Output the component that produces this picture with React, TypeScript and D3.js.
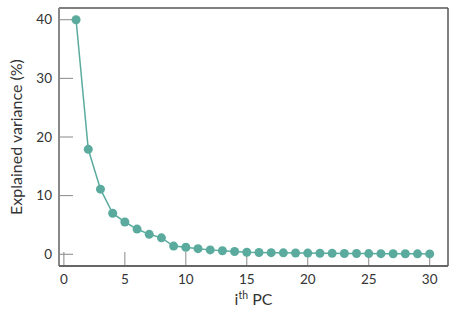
import React from "react";
import * as d3 from "d3";

const pcs = d3.range(1, 31);
const variance = [40, 17.9, 11.1, 7.0, 5.5, 4.3, 3.4, 2.8, 1.4, 1.2, 0.96, 0.75, 0.6, 0.48, 0.35, 0.3, 0.27, 0.24, 0.22, 0.2, 0.18, 0.16, 0.14, 0.13, 0.12, 0.1, 0.09, 0.08, 0.07, 0.06];
const xTicks = [0, 5, 10, 15, 20, 25, 30];
const yTicks = [0, 10, 20, 30, 40];

const W = 457, H = 322;
const L = 59, R = 448, T = 8, B = 266;
const color = "#5aab9e";
const font = "Lato, 'Open Sans', sans-serif";

export default function App() {
  const x = d3.scaleLinear().domain([-0.4, 31.5]).range([L, R]);
  const y = d3.scaleLinear().domain([-2, 42]).range([B, T]);
  const data = pcs.map((p, i) => ({ p, v: variance[i] }));
  const line = d3.line<{ p: number; v: number }>().x(d => x(d.p)).y(d => y(d.v));
  return (
    <svg width={W} height={H} style={{ position: "absolute", left: 0, top: 0 }}>
      <rect x={0} y={0} width={W} height={H} fill="#fff" />
      {yTicks.map(t => (
        <g key={"y" + t}>
          <line x1={L} x2={L + 14} y1={y(t)} y2={y(t)} stroke="#888" strokeWidth={1} />
          <text x={L - 7} y={y(t)} dy="0.35em" textAnchor="end" fontSize={13.5} fill="#333" fontFamily={font}>{t}</text>
        </g>
      ))}
      {xTicks.map(t => (
        <g key={"x" + t}>
          <line x1={x(t)} x2={x(t)} y1={B} y2={B - 14} stroke="#888" strokeWidth={1} />
          <text x={x(t)} y={B + 18} textAnchor="middle" fontSize={13.5} fill="#333" fontFamily={font}>{t}</text>
        </g>
      ))}
      <line x1={L} x2={R} y1={T} y2={T} stroke="#555" strokeWidth={1.5} />
      <line x1={R} x2={R} y1={T} y2={B} stroke="#555" strokeWidth={1.5} />
      <line x1={L} x2={L} y1={T} y2={B} stroke="#888" strokeWidth={2} />
      <line x1={L} x2={R} y1={B} y2={B} stroke="#666" strokeWidth={2} />
      <path d={line(data) || ""} fill="none" stroke={color} strokeWidth={1.5} />
      {data.map(d => (
        <circle key={d.p} cx={x(d.p)} cy={y(d.v)} r={4.5} fill={color} />
      ))}
      <text transform={`translate(22,${(T + B) / 2}) rotate(-90)`} textAnchor="middle" fontSize={16} fill="#333" fontFamily={font}>Explained variance (%)</text>
      <text x={(L + R) / 2} y={305} textAnchor="middle" fontSize={16} fill="#333" fontFamily={font}>
        i<tspan dy={-6} fontSize={10.5}>th</tspan><tspan dy={6}> PC</tspan>
      </text>
    </svg>
  );
}
